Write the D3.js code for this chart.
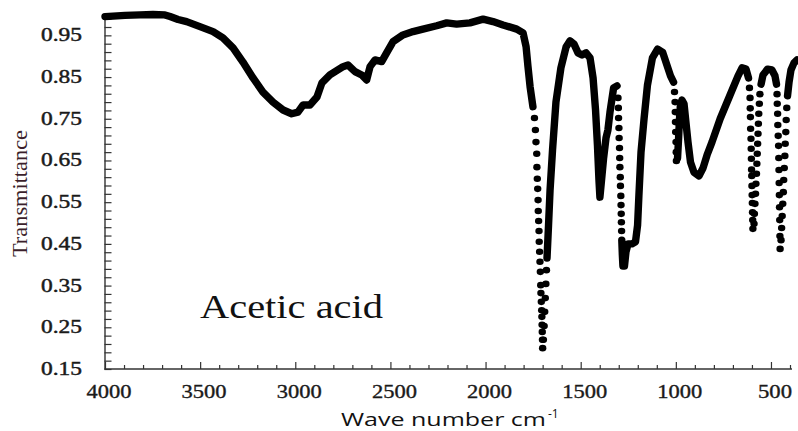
<!DOCTYPE html>
<html><head><meta charset="utf-8">
<script src="https://cdn.jsdelivr.net/npm/d3@7"></script>
<style>body{margin:0;background:#fff} svg{display:block}</style>
</head><body>
<svg id="chart" width="798" height="431"></svg>
<script>
// ---- data: [wave number cm-1, transmittance] ----
const trace1 = [[4000,0.995],[3895,0.998],[3816,0.999],[3748,1.000],[3685,0.999],[3658,0.995],[3616,0.988],[3571,0.983],[3501,0.971],[3432,0.959],[3380,0.944],[3327,0.920],[3275,0.886],[3222,0.848],[3170,0.814],[3117,0.790],[3064,0.771],[3019,0.762],[2986,0.766],[2959,0.783],[2923,0.783],[2886,0.802],[2860,0.836],[2818,0.855],[2749,0.875],[2723,0.879],[2686,0.863],[2651,0.855],[2625,0.843],[2607,0.875],[2581,0.891],[2546,0.887],[2520,0.908],[2486,0.935],[2434,0.951],[2381,0.959],[2329,0.965],[2257,0.973],[2204,0.980],[2152,0.977],[2082,0.980],[2013,0.989],[1961,0.983],[1908,0.975],[1836,0.965],[1803,0.956],[1787,0.923],[1777,0.875],[1766,0.827],[1751,0.779]];
const trace2 = [[1677,0.416],[1669,0.495],[1661,0.579],[1648,0.675],[1630,0.790],[1604,0.872],[1577,0.922],[1556,0.937],[1535,0.929],[1514,0.908],[1493,0.903],[1472,0.908],[1451,0.896],[1435,0.848],[1422,0.771],[1412,0.687],[1404,0.603],[1399,0.562],[1388,0.615],[1380,0.654],[1367,0.704],[1357,0.723],[1346,0.766],[1327,0.824],[1309,0.829]];
const trace3 = [[1284,0.459],[1281,0.423],[1278,0.397],[1270,0.397],[1262,0.431],[1251,0.450],[1230,0.450],[1212,0.455],[1201,0.495],[1194,0.567],[1183,0.670],[1167,0.750],[1149,0.831],[1123,0.896],[1096,0.917],[1069,0.909],[1042,0.872],[1028,0.853],[1012,0.838]];
const trace4 = [[991,0.656],[986,0.699],[981,0.747],[976,0.783],[968,0.795],[957,0.786],[947,0.742],[936,0.694],[923,0.646],[905,0.622],[878,0.613],[857,0.632],[836,0.663],[810,0.694],[767,0.750],[715,0.807],[673,0.853],[652,0.872],[631,0.869],[618,0.848]];
const trace5 = [[552,0.833],[542,0.855],[518,0.869],[495,0.867],[479,0.853],[471,0.833]];
const trace6 = [[413,0.805],[405,0.838],[395,0.867],[379,0.884],[363,0.891]];
// separated points on the steep flanks of the bands
const dotsCO = [[1743,0.752],[1738,0.723],[1735,0.694],[1731,0.666],[1730,0.634],[1728,0.606],[1726,0.582],[1724,0.555],[1723,0.529],[1721,0.505],[1719,0.481],[1718,0.455],[1716,0.431],[1714,0.407],[1712,0.383],[1710,0.351],[1709,0.332],[1707,0.311],[1705,0.291],[1704,0.275],[1703,0.256],[1702,0.239],[1701,0.220],[1700,0.200],[1696,0.220],[1692,0.253],[1689,0.287],[1686,0.320],[1683,0.354],[1680,0.387]];
const dots1300 = [[1304,0.800],[1302,0.776],[1301,0.752],[1299,0.728],[1298,0.704],[1296,0.680],[1295,0.656],[1294,0.634],[1292,0.610],[1291,0.589],[1289,0.565],[1288,0.543],[1287,0.522],[1286,0.502],[1285,0.481]];
const dots1000 = [[1007,0.814],[1004,0.790],[1003,0.766],[1002,0.742],[1001,0.718],[999,0.694],[998,0.670],[997,0.649]];
const dots600 = [[613,0.824],[610,0.800],[609,0.775],[608,0.754],[607,0.726],[605,0.702],[604,0.678],[603,0.654],[602,0.628],[601,0.613],[600,0.589],[599,0.567],[598,0.548],[597,0.526],[596,0.507],[595,0.486],[589,0.498],[587,0.522],[584,0.546],[581,0.570],[579,0.594],[576,0.618],[574,0.642],[572,0.666],[570,0.690],[568,0.714],[566,0.738],[564,0.762],[561,0.786],[558,0.809]];
const dots450 = [[468,0.809],[467,0.786],[465,0.762],[464,0.735],[462,0.709],[460,0.685],[459,0.656],[458,0.627],[457,0.596],[456,0.567],[455,0.538],[454,0.507],[453,0.469],[452,0.438],[447,0.459],[444,0.488],[441,0.517],[438,0.546],[435,0.574],[433,0.603],[430,0.632],[427,0.661],[425,0.690],[422,0.718],[420,0.747],[417,0.776]];

const xTickLabels = [4000, 3500, 3000, 2500, 2000, 1500, 1000, 500];
const yTickLabels = ["0.15","0.25","0.35","0.45","0.55","0.65","0.75","0.85","0.95"];
const sampleLabel = "Acetic acid";
const xTitle = "Wave number cm";
const xTitleSup = "-1";
const yTitle = "Transmittance";

// ---- drawing ----
const svg = d3.select("#chart");
const x = d3.scaleLinear().domain([4000, 400]).range([105, 790]);
const y = d3.scaleLinear().domain([0.15, 1.0]).range([369, 14.5]);
const axisColor = "#333";
const serif = "'Liberation Serif','Times New Roman',serif";

// x axis
const xMinor = d3.range(4000, 399, -100);
const gx = svg.append("g").attr("transform", "translate(0,369)")
  .call(d3.axisBottom(x).tickValues(xMinor).tickSizeInner(-4).tickSizeOuter(0).tickFormat(""));
gx.select(".domain").attr("stroke", axisColor).attr("stroke-width", 1.4).attr("d", "M104.5,0H792");
gx.selectAll(".tick line").attr("stroke", axisColor).attr("stroke-width", 1.2)
  .attr("y2", d => (d % 500 === 0 ? -7 : -4));
gx.selectAll(".tick text").remove();
svg.append("g").selectAll("text").data(xTickLabels).join("text")
  .attr("x", d => x(d) + 4).attr("y", 398)
  .attr("text-anchor", "middle")
  .attr("font-family", serif).attr("font-size", 18).attr("fill", "#1a1a1a")
  .attr("stroke", "#1a1a1a").attr("stroke-width", 0.35)
  .attr("textLength", d => (String(d).length === 4 ? 45 : 34))
  .attr("lengthAdjust", "spacingAndGlyphs")
  .text(d => d);

// y axis
const yMinor = d3.range(0, 43).map(i => 0.15 + i * 0.02);
const gy = svg.append("g").attr("transform", "translate(104.5,0)")
  .call(d3.axisLeft(y).tickValues(yMinor).tickSizeInner(-7).tickSizeOuter(0).tickFormat(""));
gy.select(".domain").attr("stroke", axisColor).attr("stroke-width", 1.4);
gy.selectAll(".tick line").attr("stroke", axisColor).attr("stroke-width", 1.2);
gy.selectAll(".tick text").remove();
svg.append("g").selectAll("text").data(yTickLabels).join("text")
  .attr("x", 82).attr("y", d => y(+d) + 6)
  .attr("text-anchor", "end")
  .attr("font-family", serif).attr("font-size", 18).attr("fill", "#1a1a1a")
  .attr("stroke", "#1a1a1a").attr("stroke-width", 0.45)
  .attr("textLength", 41).attr("lengthAdjust", "spacingAndGlyphs")
  .text(d => d);

// titles
svg.append("text")
  .attr("transform", "translate(27,193.5) rotate(-90)")
  .attr("text-anchor", "middle")
  .attr("font-family", serif).attr("font-size", 20).attr("fill", "#3b1f2b")
  .attr("textLength", 127).attr("lengthAdjust", "spacingAndGlyphs")
  .text(yTitle);
svg.append("text")
  .attr("x", 341).attr("y", 426)
  .attr("font-family", "'Open Sans','Noto Sans',sans-serif").attr("font-size", 19).attr("fill", "#111")
  .attr("textLength", 205).attr("lengthAdjust", "spacingAndGlyphs")
  .text(xTitle);
svg.append("text")
  .attr("x", 548).attr("y", 418)
  .attr("font-family", "'Open Sans','Noto Sans',sans-serif").attr("font-size", 12).attr("fill", "#111")
  .text(xTitleSup);
svg.append("text")
  .attr("x", 200).attr("y", 318)
  .attr("font-family", serif).attr("font-size", 33).attr("fill", "#111")
  .attr("textLength", 183).attr("lengthAdjust", "spacingAndGlyphs")
  .text(sampleLabel);

// spectrum: dense parts as a thick band, steep flanks as separate points
const line = d3.line().x(d => x(d[0])).y(d => y(d[1]));
svg.append("g").selectAll("path").data([trace1, trace2, trace3, trace4, trace5, trace6]).join("path")
  .attr("d", line).attr("fill", "none").attr("stroke", "#000")
  .attr("stroke-width", 7.4).attr("stroke-linecap", "round").attr("stroke-linejoin", "round");
svg.append("g").selectAll("ellipse").data([].concat(dotsCO, dots1300, dots1000, dots600, dots450)).join("ellipse")
  .attr("cx", d => x(d[0])).attr("cy", d => y(d[1])).attr("rx", 3.7).attr("ry", 3.3).attr("fill", "#000");
</script>
</body></html>
